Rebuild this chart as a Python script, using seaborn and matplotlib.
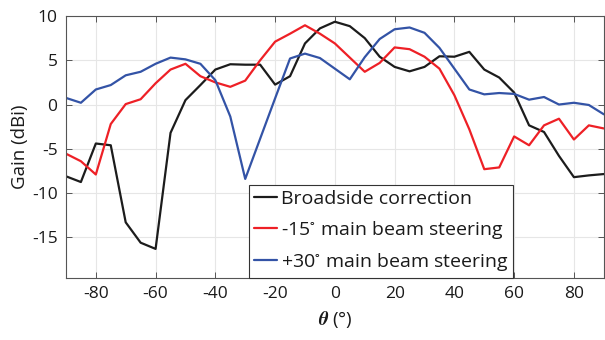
import numpy as np
import pandas as pd
import matplotlib
matplotlib.use("Agg")
import matplotlib.pyplot as plt
import seaborn as sns

theta = list(range(-90, 91, 5))

broadside = [-8.1, -8.75, -4.4, -4.6, -13.3, -15.6, -16.3, -3.2, 0.5, 2.2,
             3.95, 4.55, 4.5, 4.5, 2.25, 3.2, 6.9, 8.6, 9.35, 8.85,
             7.5, 5.4, 4.25, 3.75, 4.25, 5.45, 5.4, 5.95, 3.95, 3.05,
             1.35, -2.35, -3.1, -5.8, -8.2, -8.0, -7.85]

steer_m15 = [-5.55, -6.4, -7.9, -2.2, 0.05, 0.6, 2.4, 3.95, 4.6, 3.2,
             2.5, 2.0, 2.7, 5.0, 7.1, 8.0, 8.95, 8.0, 6.9, 5.3,
             3.7, 4.7, 6.45, 6.25, 5.4, 4.05, 1.05, -2.8, -7.3, -7.1,
             -3.6, -4.6, -2.35, -1.6, -3.95, -2.35, -2.7]

steer_p30 = [0.75, 0.2, 1.7, 2.2, 3.3, 3.7, 4.6, 5.3, 5.1, 4.6,
             2.75, -1.35, -8.4, -3.85, 0.7, 5.2, 5.75, 5.25, 4.05, 2.85,
             5.35, 7.4, 8.5, 8.7, 8.1, 6.4, 4.05, 1.7, 1.15, 1.3,
             1.2, 0.55, 0.85, 0.0, 0.2, -0.05, -1.1]

labels = ["Broadside correction",
          "-15$^{\\circ}$ main beam steering",
          "+30$^{\\circ}$ main beam steering"]
colors = ["#1c1c1c", "#ee2026", "#3353a6"]

xticks = [-80, -60, -40, -20, 0, 20, 40, 60, 80]
yticks = [-15, -10, -5, 0, 5, 10]

df = pd.DataFrame({
    "theta": theta * 3,
    "gain": broadside + steer_m15 + steer_p30,
    "series": [labels[0]] * len(theta) + [labels[1]] * len(theta) + [labels[2]] * len(theta),
})

sns.set_theme(style="whitegrid")
plt.rcParams["font.family"] = ["Open Sans", "DejaVu Sans"]
plt.rcParams["mathtext.fontset"] = "stix"

fig = plt.figure(figsize=(6.05, 3.4), dpi=100)
ax = fig.add_axes([0.109, 0.182, 0.889, 0.771])

sns.lineplot(data=df, x="theta", y="gain", hue="series", hue_order=labels,
             palette=colors, linewidth=1.6, ax=ax)

ax.set_xlim(-90, 90)
ax.set_ylim(-19.6, 10)
ax.set_xticks(xticks)
ax.set_yticks(yticks)
ax.set_xticklabels([str(v) for v in xticks])
ax.set_yticklabels([str(v) for v in yticks])
ax.grid(True, color="#e6e6e6", linewidth=0.8)
for s in ax.spines.values():
    s.set_color("#555555")
    s.set_linewidth(0.8)
ax.tick_params(axis="both", direction="in", length=4, width=0.7, color="#555555",
               labelsize=12.5, labelcolor="#1a1a1a", top=True, right=True,
               bottom=True, left=True, pad=6)

ax.set_ylabel("Gain (dBi)", fontsize=13.5, color="#1a1a1a", labelpad=2)
ax.set_xlabel(r"$\mathbfit{\theta}$ (°)", fontsize=13.5, color="#1a1a1a", labelpad=5)

leg = ax.legend(loc="lower left", bbox_to_anchor=(0.34, 0.0), fontsize=14,
                frameon=True, fancybox=False, handlelength=1.2, handletextpad=0.2,
                borderpad=0.25, labelspacing=0.55, borderaxespad=0.0)
leg.get_frame().set_edgecolor("#333333")
leg.get_frame().set_linewidth(0.8)
leg.get_frame().set_alpha(1)
for t in leg.get_texts():
    t.set_color("#1a1a1a")

fig.savefig("out.png", dpi=100)
